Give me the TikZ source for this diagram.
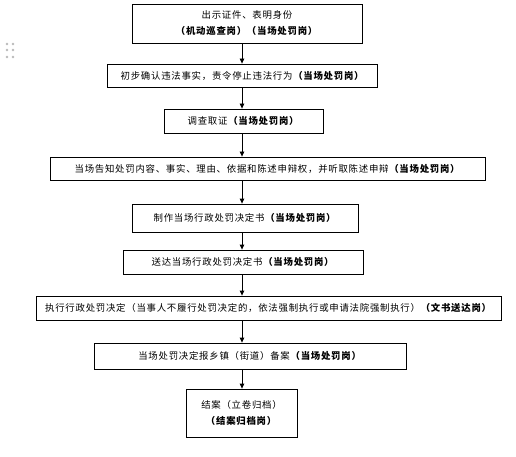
\documentclass[tikz,border=0pt]{standalone}
\usepackage{fontspec}
\setmainfont{Noto Sans CJK SC}[LetterSpace=8]
\usetikzlibrary{
  arrows.meta,
  positioning
}
\tikzset{
  >=stealth,
  line cap=round,
  line join=round,
  every picture/.style={line width=0.8pt},
  stepbox/.style={draw, rectangle, inner sep=0pt, align=center, font=\fontsize{9.4}{16}\selectfont},
  arrow/.style={-{Triangle[width=4.5pt,length=5pt]}},
  handledot/.style={circle, fill=gray!55, inner sep=0pt, minimum size=2.8pt}
}
\newcommand{\gang}[1]{\textbf{（#1）}}

\begin{document}
\begin{tikzpicture}[x=1pt, y=-1pt]
\useasboundingbox (0,0) rectangle (516,457);

% 左侧拖动点
\foreach \yy [count=\i] in {44,50,57} {
  \node[handledot] (dl\i) at (7,\yy) {};
  \node[handledot] (dr\i) at (13,\yy) {};
}

% 流程框
\node[stepbox, minimum width=230pt, minimum height=39pt] (b1) at (247,23.5)
    {出示证件、表明身份\\\gang{机动巡查岗}\textbf{（当场处罚岗）}};
\node[stepbox, minimum width=270pt, minimum height=23pt] (b2) at (242.5,75.5)
    {初步确认违法事实，责令停止违法行为\gang{当场处罚岗}};
\node[stepbox, minimum width=159pt, minimum height=24pt] (b3) at (243.5,121)
    {调查取证\gang{当场处罚岗}};
\node[stepbox, minimum width=435pt, minimum height=23pt] (b4) at (267.5,168.5)
    {当场告知处罚内容、事实、理由、依据和陈述申辩权，并听取陈述申辩\gang{当场处罚岗}};
\node[stepbox, minimum width=226pt, minimum height=28pt] (b5) at (245,218)
    {制作当场行政处罚决定书\gang{当场处罚岗}};
\node[stepbox, minimum width=240pt, minimum height=24pt] (b6) at (243,262)
    {送达当场行政处罚决定书\gang{当场处罚岗}};
\node[stepbox, minimum width=465pt, minimum height=24pt] (b7) at (268.5,308)
    {执行行政处罚决定（当事人不履行处罚决定的，依法强制执行或申请法院强制执行）\gang{文书送达岗}};
\node[stepbox, minimum width=312pt, minimum height=26pt] (b8) at (250,356)
    {当场处罚决定报乡镇（街道）备案\gang{当场处罚岗}};
\node[stepbox, minimum width=111pt, minimum height=48pt] (b9) at (241.5,413)
    {结案（立卷归档）\\\gang{结案归档岗}};

% 箭头
\coordinate (spine) at (242,0);
\foreach \a/\b in {b1/b2, b2/b3, b3/b4, b4/b5, b5/b6, b6/b7, b7/b8, b8/b9}
  \draw[arrow] (\a.south -| spine) -- (\b.north -| spine);

\end{tikzpicture}
\end{document}
